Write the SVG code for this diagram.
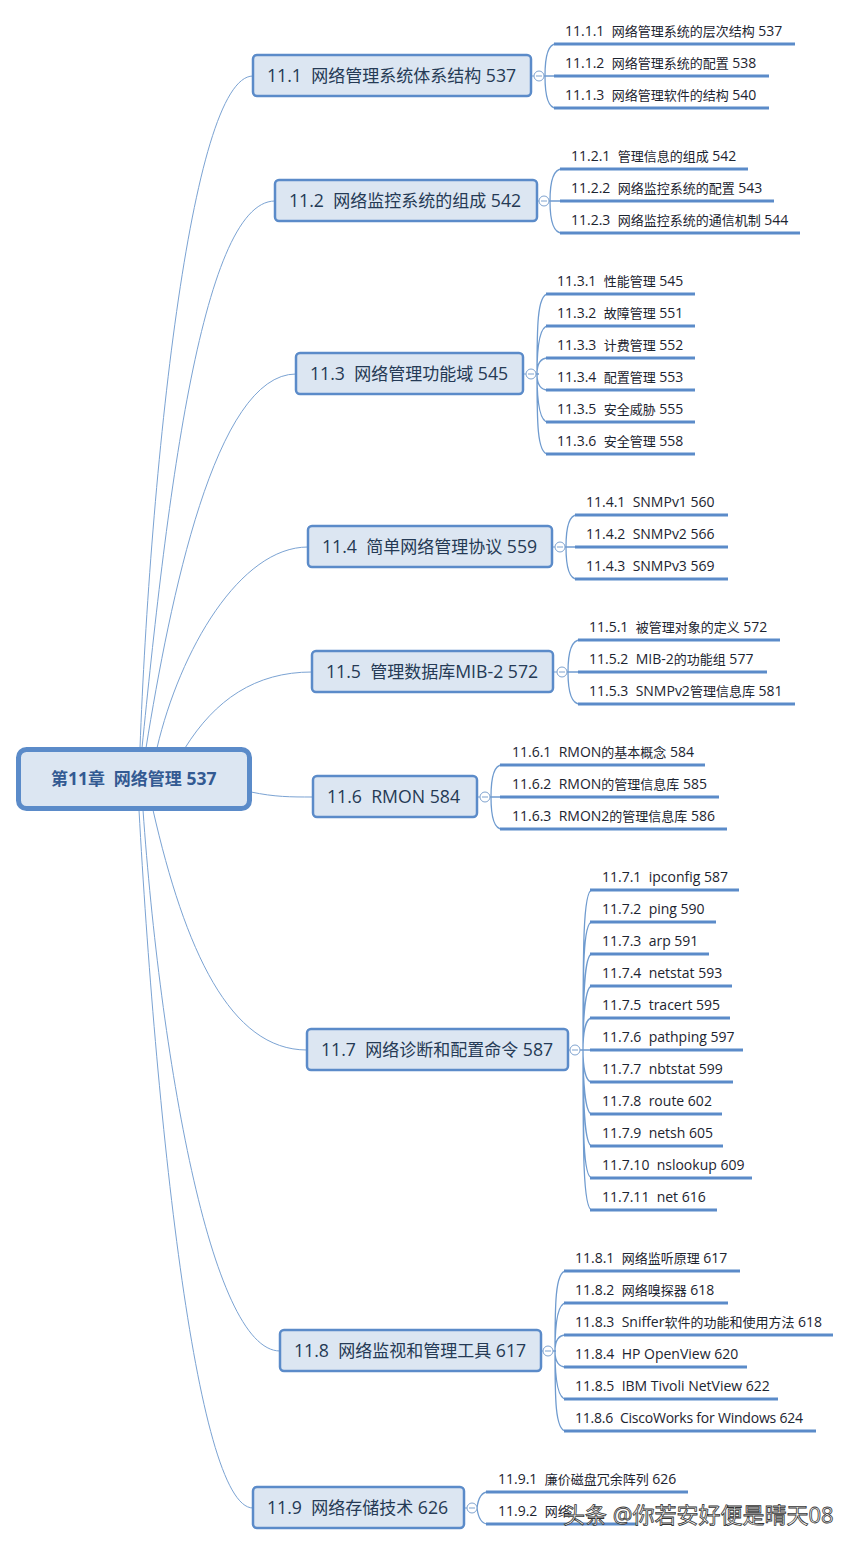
<svg xmlns="http://www.w3.org/2000/svg" width="850" height="1545" viewBox="0 0 850 1545">
<style>
text{font-family:"Open Sans","Noto Sans CJK SC",sans-serif;white-space:pre}
.topic rect{fill:#dce6f2;stroke:#5b8bc9;stroke-width:2.5}
.topic text{font-size:17.7px;fill:#253a55}
.topic tspan{font-size:17px}
.sub text{font-size:14px;fill:#1c2430}
.sub tspan{font-size:13px}
.sub line{stroke:#5b8bc9;stroke-width:3}
.c{fill:#fff;stroke:#7fa3cf;stroke-width:1}
.m{stroke:#7fa3cf;stroke-width:1}
#conn path{fill:none;stroke:#7ba3d3;stroke-width:1}
#conn .b{stroke:#6f9bcf;stroke-width:1.3}
</style>
<g id="conn">
<path d="M140,748C150,480 190,76 253,76"/>
<path d="M142,748C165,520 200,201 275,201"/>
<path d="M146,748C170,600 215,374 296,374"/>
<path d="M157,748C180,650 240,547 308,547"/>
<path d="M185,748C215,700 255,672 312,672"/>
<path d="M251,792C275,797 290,797 313,797"/>
<path d="M153,810C185,950 230,1050 307,1050"/>
<path d="M143,810C160,1050 210,1351 280,1351"/>
<path d="M139,810C155,1100 195,1508 253,1508"/>
<path class="b" d="M545,76C545,60 547,44 556,44M544,76H556M545,76C545,92 547,108 556,108"/>
<path class="b" d="M550,201C550,185 552,169 562,169M549,201H562M550,201C550,217 552,233 562,233"/>
<path class="b" d="M537,374C537,330 537,294 548,294M537,374C537,350 539,326 548,326M537,374C537,366 539,358 548,358M536,374H539M537,374C537,382 539,390 548,390M537,374C537,398 539,422 548,422M537,374C537,420 537,454 548,454"/>
<path class="b" d="M566,547C566,531 568,515 577,515M565,547H577M566,547C566,563 568,579 577,579"/>
<path class="b" d="M568,672C568,656 570,640 580,640M567,672H580M568,672C568,688 570,704 580,704"/>
<path class="b" d="M491,797C491,781 493,765 502,765M490,797H502M491,797C491,813 493,829 502,829"/>
<path class="b" d="M583,1050C583,950 583,890 592,890M583,1050C583,970 583,922 592,922M583,1050C583,1000 584,954 592,954M583,1050C583,1020 585,986 592,986M583,1050C583,1035 585,1018 592,1018M580,1050H592M583,1050C583,1065 585,1082 592,1082M583,1050C583,1080 585,1114 592,1114M583,1050C583,1100 584,1146 592,1146M583,1050C583,1130 583,1178 592,1178M583,1050C583,1150 583,1210 592,1210"/>
<path class="b" d="M555,1351C555,1307 555,1271 566,1271M555,1351C555,1327 557,1303 566,1303M555,1351C555,1343 557,1335 566,1335M553,1351H556M555,1351C555,1359 557,1367 566,1367M555,1351C555,1375 557,1399 566,1399M555,1351C555,1397 555,1431 566,1431"/>
<path class="b" d="M477,1508C478,1500 481,1492 488,1492M477,1508C478,1516 481,1524 488,1524"/>
<path d="M531,76H534M537,201H539M523,374H526M552,547H555M553,672H557M477,797H480M568,1050H570M541,1351H543M464,1508H467"/>
</g>
<g id="root"><rect x="18.500" y="749.500" width="231" height="59" rx="8" fill="#dce6f2" stroke="#5b8bc9" stroke-width="5"/><text x="51" y="785" font-size="17.5" font-weight="700" fill="#335a92"><tspan font-size="17">第</tspan>11<tspan font-size="17">章  网络管理</tspan> 537</text></g>

<g id="n11-1"><g class="topic"><rect x="253" y="55" width="278" height="41" rx="4"/><text x="267" y="82">11.1  <tspan>网络管理系统体系结构</tspan> 537</text></g><circle class="c" cx="539" cy="76" r="5"/><path class="m" d="M536,76H542"/>
<g class="sub"><text x="565" y="36">11.1.1  <tspan>网络管理系统的层次结构</tspan> 537</text><line x1="554" y1="44" x2="795" y2="44"/><text x="565" y="68">11.1.2  <tspan>网络管理系统的配置</tspan> 538</text><line x1="554" y1="76" x2="769" y2="76"/><text x="565" y="100">11.1.3  <tspan>网络管理软件的结构</tspan> 540</text><line x1="554" y1="108" x2="769" y2="108"/></g></g>

<g id="n11-2"><g class="topic"><rect x="275" y="180" width="262" height="41" rx="4"/><text x="289" y="207">11.2  <tspan>网络监控系统的组成</tspan> 542</text></g><circle class="c" cx="544" cy="201" r="5"/><path class="m" d="M541,201H547"/>
<g class="sub"><text x="571" y="161">11.2.1  <tspan>管理信息的组成</tspan> 542</text><line x1="560" y1="169" x2="748" y2="169"/><text x="571" y="193">11.2.2  <tspan>网络监控系统的配置</tspan> 543</text><line x1="560" y1="201" x2="774" y2="201"/><text x="571" y="225">11.2.3  <tspan>网络监控系统的通信机制</tspan> 544</text><line x1="560" y1="233" x2="800" y2="233"/></g></g>

<g id="n11-3"><g class="topic"><rect x="296" y="353" width="227" height="41" rx="4"/><text x="310" y="380">11.3  <tspan>网络管理功能域</tspan> 545</text></g><circle class="c" cx="531" cy="374" r="5"/><path class="m" d="M528,374H534"/>
<g class="sub"><text x="557" y="286">11.3.1  <tspan>性能管理</tspan> 545</text><line x1="546" y1="294" x2="695" y2="294"/><text x="557" y="318">11.3.2  <tspan>故障管理</tspan> 551</text><line x1="546" y1="326" x2="695" y2="326"/><text x="557" y="350">11.3.3  <tspan>计费管理</tspan> 552</text><line x1="546" y1="358" x2="695" y2="358"/><text x="557" y="382">11.3.4  <tspan>配置管理</tspan> 553</text><line x1="546" y1="390" x2="695" y2="390"/><text x="557" y="414">11.3.5  <tspan>安全威胁</tspan> 555</text><line x1="546" y1="422" x2="695" y2="422"/><text x="557" y="446">11.3.6  <tspan>安全管理</tspan> 558</text><line x1="546" y1="454" x2="695" y2="454"/></g></g>

<g id="n11-4"><g class="topic"><rect x="308" y="526" width="244" height="41" rx="4"/><text x="322" y="553">11.4  <tspan>简单网络管理协议</tspan> 559</text></g><circle class="c" cx="560" cy="547" r="5"/><path class="m" d="M557,547H563"/>
<g class="sub"><text x="586" y="507">11.4.1  SNMPv1 560</text><line x1="575" y1="515" x2="728" y2="515"/><text x="586" y="539">11.4.2  SNMPv2 566</text><line x1="575" y1="547" x2="728" y2="547"/><text x="586" y="571">11.4.3  SNMPv3 569</text><line x1="575" y1="579" x2="728" y2="579"/></g></g>

<g id="n11-5"><g class="topic"><rect x="312" y="651" width="241" height="41" rx="4"/><text x="326" y="678">11.5  <tspan>管理数据库</tspan>MIB-2 572</text></g><circle class="c" cx="562" cy="672" r="5"/><path class="m" d="M559,672H565"/>
<g class="sub"><text x="589" y="632">11.5.1  <tspan>被管理对象的定义</tspan> 572</text><line x1="578" y1="640" x2="780" y2="640"/><text x="589" y="664">11.5.2  MIB-2<tspan>的功能组</tspan> 577</text><line x1="578" y1="672" x2="767" y2="672"/><text x="589" y="696">11.5.3  SNMPv2<tspan>管理信息库</tspan> 581</text><line x1="578" y1="704" x2="795" y2="704"/></g></g>

<g id="n11-6"><g class="topic"><rect x="313" y="776" width="164" height="41" rx="4"/><text x="327" y="803">11.6  RMON 584</text></g><circle class="c" cx="485" cy="797" r="5"/><path class="m" d="M482,797H488"/>
<g class="sub"><text x="512" y="757">11.6.1  RMON<tspan>的基本概念</tspan> 584</text><line x1="500" y1="765" x2="705" y2="765"/><text x="512" y="789">11.6.2  RMON<tspan>的管理信息库</tspan> 585</text><line x1="500" y1="797" x2="719" y2="797"/><text x="512" y="821">11.6.3  RMON2<tspan>的管理信息库</tspan> 586</text><line x1="500" y1="829" x2="727" y2="829"/></g></g>

<g id="n11-7"><g class="topic"><rect x="307" y="1029" width="261" height="41" rx="4"/><text x="321" y="1056">11.7  <tspan>网络诊断和配置命令</tspan> 587</text></g><circle class="c" cx="575" cy="1050" r="5"/><path class="m" d="M572,1050H578"/>
<g class="sub"><text x="602" y="882">11.7.1  ipconfig 587</text><line x1="590" y1="890" x2="739" y2="890"/><text x="602" y="914">11.7.2  ping 590</text><line x1="590" y1="922" x2="716" y2="922"/><text x="602" y="946">11.7.3  arp 591</text><line x1="590" y1="954" x2="709" y2="954"/><text x="602" y="978">11.7.4  netstat 593</text><line x1="590" y1="986" x2="732" y2="986"/><text x="602" y="1010">11.7.5  tracert 595</text><line x1="590" y1="1018" x2="730" y2="1018"/><text x="602" y="1042">11.7.6  pathping 597</text><line x1="590" y1="1050" x2="743" y2="1050"/><text x="602" y="1074">11.7.7  nbtstat 599</text><line x1="590" y1="1082" x2="733" y2="1082"/><text x="602" y="1106">11.7.8  route 602</text><line x1="590" y1="1114" x2="722" y2="1114"/><text x="602" y="1138">11.7.9  netsh 605</text><line x1="590" y1="1146" x2="723" y2="1146"/><text x="602" y="1170">11.7.10  nslookup 609</text><line x1="590" y1="1178" x2="752" y2="1178"/><text x="602" y="1202">11.7.11  net 616</text><line x1="590" y1="1210" x2="717" y2="1210"/></g></g>

<g id="n11-8"><g class="topic"><rect x="280" y="1330" width="261" height="41" rx="4"/><text x="294" y="1357">11.8  <tspan>网络监视和管理工具</tspan> 617</text></g><circle class="c" cx="548" cy="1351" r="5"/><path class="m" d="M545,1351H551"/>
<g class="sub"><text x="575" y="1263">11.8.1  <tspan>网络监听原理</tspan> 617</text><line x1="564" y1="1271" x2="740" y2="1271"/><text x="575" y="1295">11.8.2  <tspan>网络嗅探器</tspan> 618</text><line x1="564" y1="1303" x2="728" y2="1303"/><text x="575" y="1327">11.8.3  Sniffer<tspan>软件的功能和使用方法</tspan> 618</text><line x1="564" y1="1335" x2="833" y2="1335"/><text x="575" y="1359">11.8.4  HP OpenView 620</text><line x1="564" y1="1367" x2="747" y2="1367"/><text x="575" y="1391">11.8.5  IBM Tivoli NetView 622</text><line x1="564" y1="1399" x2="778" y2="1399"/><text x="575" y="1423" textLength="228">11.8.6  CiscoWorks for Windows 624</text><line x1="564" y1="1431" x2="816" y2="1431"/></g></g>

<g id="n11-9"><g class="topic"><rect x="253" y="1487" width="211" height="41" rx="4"/><text x="267" y="1514">11.9  <tspan>网络存储技术</tspan> 626</text></g><circle class="c" cx="472" cy="1508" r="5"/><path class="m" d="M469,1508H475"/>
<g class="sub"><text x="498" y="1484">11.9.1  <tspan>廉价磁盘冗余阵列</tspan> 626</text><line x1="486" y1="1492" x2="688" y2="1492"/><text x="498" y="1516">11.9.2  <tspan>网络</tspan></text><line x1="486" y1="1524" x2="637" y2="1524"/></g></g>

<text id="watermark" x="563" y="1523" font-size="22" fill="#fff" stroke="#333" stroke-width="0.8">头条 @你若安好便是晴天08</text>
</svg>
